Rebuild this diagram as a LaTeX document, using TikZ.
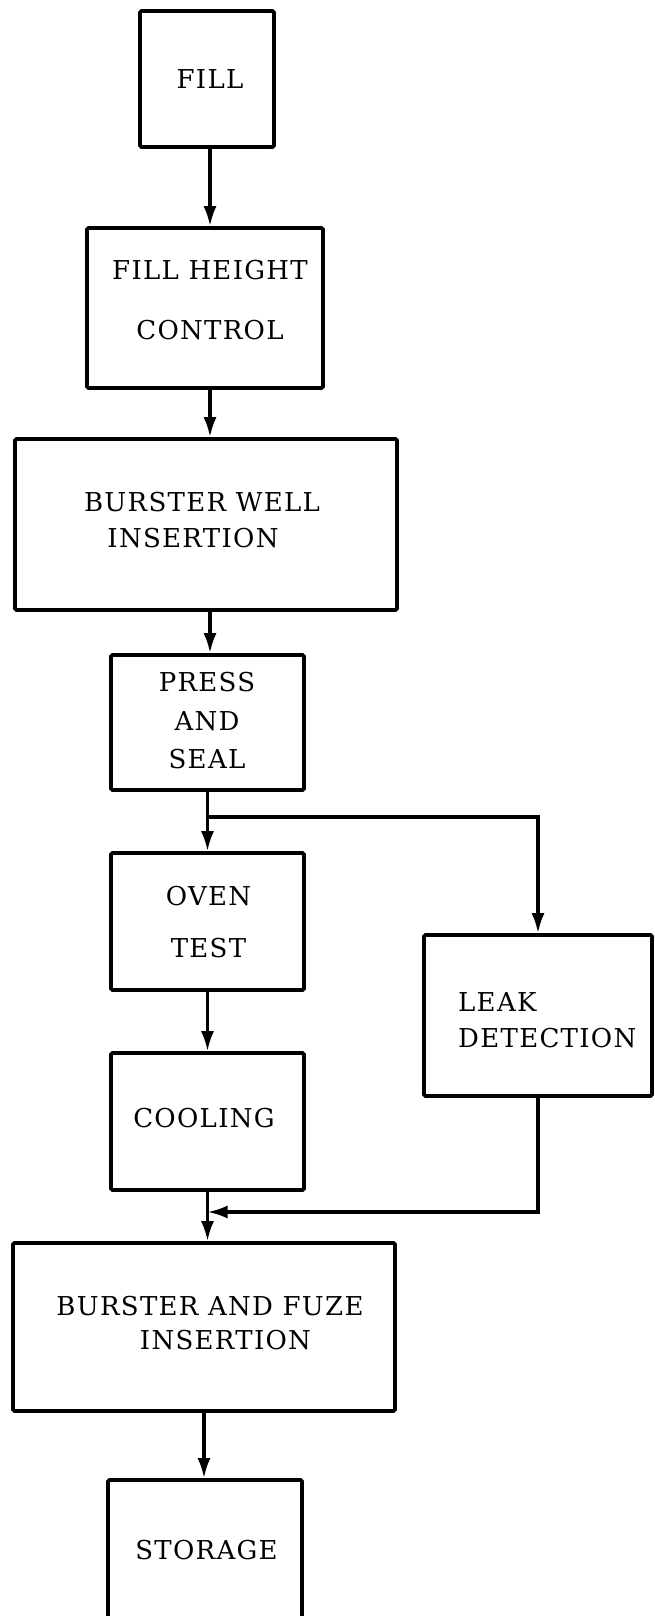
\documentclass[tikz,border=0pt]{standalone}
\usepackage{fontspec}
\setmainfont[LetterSpace=5]{DejaVu Serif}
\usetikzlibrary{arrows.meta}
\begin{document}
\begin{tikzpicture}[x=1pt,y=-1pt,
  box/.style={draw=black, line width=3.6pt, rounded corners=1.5pt, inner sep=0pt},
  lbl/.style={inner sep=0pt, align=center, font=\fontsize{26}{31}\selectfont},
  arr/.style={draw=black, line width=3.2pt, -{Latex[length=20pt,width=13pt]}}]
\useasboundingbox (0,0) rectangle (654,1616);
\clip (0,0) rectangle (654,1616);
% boxes
\node[box, minimum width=134pt, minimum height=136pt] (fill)  at (207,79) {};
\node[box, minimum width=236pt, minimum height=160pt] (fillh) at (205,308) {};
\node[box, minimum width=382pt, minimum height=171pt] (bwell) at (206,524.5) {};
\node[box, minimum width=193pt, minimum height=135pt] (press) at (207.5,722.5) {};
\node[box, minimum width=193pt, minimum height=137pt] (oven)  at (207.5,921.5) {};
\node[box, minimum width=193pt, minimum height=137pt] (cool)  at (207.5,1121.5) {};
\node[box, minimum width=228pt, minimum height=161pt] (leak)  at (538,1015.5) {};
\node[box, minimum width=382pt, minimum height=168pt] (bfuze) at (204,1327) {};
\node[box, minimum width=194pt, minimum height=140pt] (stor)  at (205,1550) {};
% labels
\node[lbl] (tfill)  at (210,79) {FILL};
\node[lbl] (tfillh) at (210,300) {FILL HEIGHT\\[29pt]CONTROL};
\node[lbl] (tbwell) at (202,520) {BURSTER WELL\\[5pt]INSERTION\hspace*{18pt}};
\node[lbl] (tpress) at (207,721) {PRESS\\[7.5pt]AND\\[7.5pt]SEAL};
\node[lbl] (toven)  at (208.5,922) {OVEN\\[21pt]TEST};
\node[lbl] (tcool)  at (204,1118) {COOLING};
\node[lbl, align=left, anchor=west] (tleak) at (458,1020) {LEAK\\[5pt]DETECTION};
\node[lbl] (tbfuze) at (210,1323) {BURSTER AND FUZE\\[3pt]\hspace*{31pt}INSERTION};
\node[lbl] (tstor)  at (206.5,1550) {STORAGE};
% junction points
\coordinate (j) at (208,817);
\coordinate (m) at (207.5,1212);
% connectors
\draw[arr] ([xshift=3pt]fill.south) -- ([xshift=3pt]fill.south |- fillh.north);
\draw[arr] ([xshift=5pt]fillh.south) -- ([xshift=5pt]fillh.south |- bwell.north);
\draw[arr] ([xshift=4pt]bwell.south) -- ([xshift=4pt]bwell.south |- press.north);
\draw[arr] (press.south) -- (press.south |- oven.north);
\draw[arr] (j) -| (leak.north);
\draw[arr] (oven.south) -- (oven.south |- cool.north);
\draw[arr] (leak.south) |- (m);
\draw[arr] (cool.south) -- (cool.south |- bfuze.north);
\draw[arr] (bfuze.south) -- (bfuze.south |- stor.north);
\end{tikzpicture}
\end{document}
